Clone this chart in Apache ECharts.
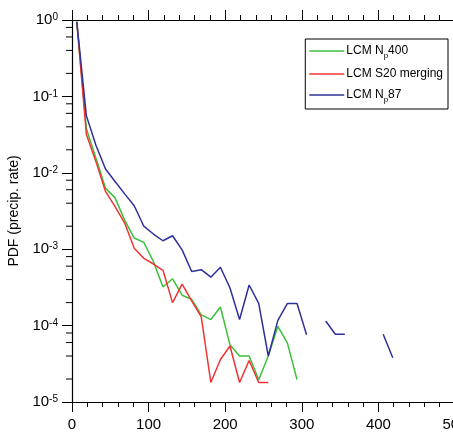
<!DOCTYPE html>
<html>
<head>
<meta charset="utf-8">
<script src="https://cdn.jsdelivr.net/npm/echarts@6/dist/echarts.min.js"></script>
<style>
    html, body { margin: 0; padding: 0; background: #fff; }
    #chart { width: 453px; height: 442px; }
</style>
</head>
<body>
<div id="chart"></div>
<script>
const font = 'Liberation Sans, Arial, Helvetica, sans-serif';

// bin centres (precip. rate)
const bins = [6.25, 18.75, 31.25, 43.75, 56.25, 68.75, 81.25, 93.75, 106.25, 118.75,
    131.25, 143.75, 156.25, 168.75, 181.25, 193.75, 206.25, 218.75, 231.25, 243.75,
    256.25, 268.75, 281.25, 293.75, 306.25, 318.75, 331.25, 343.75, 356.25, 368.75,
    381.25, 393.75, 406.25, 418.75];

const np400 = [0.95, 0.038, 0.0155, 0.0063, 0.0047, 0.0024, 0.0014, 0.00123, 0.00069, 0.00032,
    0.00041, 0.00025, 0.00022, 0.000138, 0.00012, 0.000175, 0.000056, 0.00004, 0.00004, 0.0000196,
    0.00004, 0.000098, 0.000059, 0.0000196];

const s20 = [0.95, 0.032, 0.014, 0.0057, 0.0036, 0.0022, 0.00103, 0.00076, 0.00064, 0.00053,
    0.0002, 0.00035, 0.00021, 0.00013, 0.000018, 0.000036, 0.000054, 0.000018, 0.000035, 0.000018,
    0.000018];

const np87 = [0.95, 0.056, 0.023, 0.0112, 0.0077, 0.0053, 0.0037, 0.0020, 0.00158, 0.00129,
    0.0015, 0.00098, 0.00051, 0.00054, 0.00043, 0.00058, 0.00031, 0.00012, 0.00034, 0.000195,
    0.00004, 0.000117, 0.000195, 0.000195, 0.000076, null, 0.000115, 0.000077, 0.000077, null,
    null, null, 0.000077, 0.000038];

const seriesNames = ['LCM Np400', 'LCM S20 merging', 'LCM Np87'];
const seriesColors = ['#3cc03c', '#f03434', '#30309a'];

const xTicks = [0, 100, 200, 300, 400, 500];
const decades = [1e-5, 1e-4, 1e-3, 1e-2, 1e-1];
const minorMult = [2, 4, 6, 8];

const minorTicks = [];
decades.forEach(d => minorMult.forEach(m => minorTicks.push(d * m)));

const pairs = vals => vals.map((v, i) => [bins[i], v]);

const legendLabel = name => {
    if (name === 'LCM Np400') return 'LCM N{sub|p}400';
    if (name === 'LCM Np87') return 'LCM N{sub|p}87';
    return name;
};

const lineSeries = (name, vals, color) => ({
    name: name,
    type: 'line',
    data: pairs(vals),
    symbol: 'none',
    connectNulls: false,
    lineStyle: { color: color, width: 1.5 },
    itemStyle: { color: color },
    z: 3
});

const axisLine = { show: true, lineStyle: { color: '#000', width: 1.2 } };

const option = {
    animation: false,
    textStyle: { fontFamily: font },
    grid: { left: 72, top: 20, right: -2, bottom: 40, outerBoundsMode: 'none', containLabel: false },
    legend: {
        data: seriesNames.map(n => ({ name: n, icon: 'rect' })),
        orient: 'vertical',
        right: 5,
        top: 39,
        itemWidth: 35,
        itemHeight: 1.6,
        itemGap: 7,
        padding: [5, 5, 5, 4],
        borderColor: '#000',
        borderWidth: 1,
        backgroundColor: '#fff',
        formatter: legendLabel,
        textStyle: {
            fontFamily: font,
            fontSize: 12,
            lineHeight: 14,
            color: '#000',
            padding: [0, 0, 0, -3],
            rich: {
                sub: { fontSize: 8, lineHeight: 14, fontFamily: font, color: '#000', verticalAlign: 'bottom', padding: [0, 0, -2, 0] }
            }
        }
    },
    xAxis: [
        {
            type: 'value',
            min: 0,
            max: 500,
            interval: 100,
            axisLine: axisLine,
            axisTick: { show: true, length: 10, lineStyle: { color: '#000' } },
            minorTick: { show: true, splitNumber: 5, length: 5, lineStyle: { color: '#000' } },
            splitLine: { show: false },
            axisLabel: {
                margin: 15,
                fontSize: 15,
                color: '#000',
                fontFamily: font,
                formatter: v => xTicks.indexOf(v) >= 0 ? String(v) : ''
            }
        },
        {
            type: 'value',
            position: 'top',
            min: 0,
            max: 500,
            interval: 100,
            axisLine: axisLine,
            axisTick: { show: true, length: 10, lineStyle: { color: '#000' } },
            minorTick: { show: true, splitNumber: 5, length: 5, lineStyle: { color: '#000' } },
            splitLine: { show: false },
            axisLabel: { show: false }
        }
    ],
    yAxis: {
        type: 'log',
        logBase: 10,
        min: 1e-5,
        max: 1,
        name: 'PDF (precip. rate)',
        nameLocation: 'middle',
        nameGap: 38,
        nameTextStyle: { fontSize: 14, color: '#000', fontFamily: font },
        axisLine: axisLine,
        axisTick: { show: true, length: 10, lineStyle: { color: '#000' } },
        minorTick: { show: false },
        splitLine: { show: false },
        axisLabel: {
            margin: 14,
            color: '#000',
            formatter: v => '{b|10}{s|' + Math.round(Math.log10(v)) + '}',
            rich: {
                b: { fontSize: 15, fontFamily: font, color: '#000' },
                s: { fontSize: 10, fontFamily: font, color: '#000', verticalAlign: 'top', padding: [0, 0, 4, 0] }
            }
        }
    },
    series: [
        lineSeries(seriesNames[0], np400, seriesColors[0]),
        lineSeries(seriesNames[1], s20, seriesColors[1]),
        lineSeries(seriesNames[2], np87, seriesColors[2]),
        {
            // minor ticks of the log axis at 2,4,6,8 x 10^n
            type: 'custom',
            silent: true,
            clip: false,
            data: minorTicks.map(v => [0, v]),
            renderItem: (params, api) => {
                const p = api.coord([0, api.value(1)]);
                return {
                    type: 'line',
                    shape: { x1: p[0] - 6, y1: p[1], x2: p[0], y2: p[1] },
                    style: { stroke: '#000', lineWidth: 1 }
                };
            },
            z: 5
        }
    ]
};

const chart = echarts.init(document.getElementById('chart'));
chart.setOption(option);
</script>
</body>
</html>
